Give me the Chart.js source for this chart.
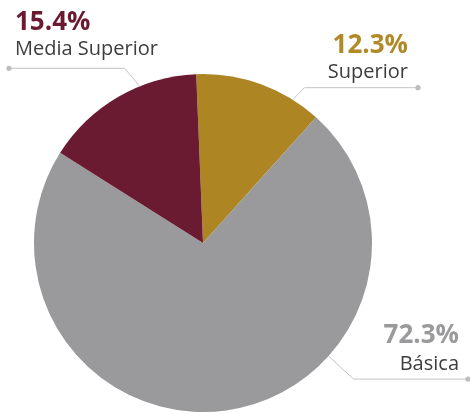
<!DOCTYPE html>
<html>
<head>
<meta charset="utf-8">
<script src="https://cdn.jsdelivr.net/npm/chart.js"></script>
<style>
  body { margin: 0; background: #fff; }
  #pie { display: block; }
</style>
</head>
<body>
<canvas id="pie" width="470" height="412"></canvas>
<script>
// data
const categories = ['Superior', 'Básica', 'Media Superior'];
const shares = [12.3, 72.3, 15.4];
const percentLabels = ['12.3%', '72.3%', '15.4%'];

const sliceColors = ['#ae8523', '#9a999b', '#6a1b31'];
const textColors = ['#b18a28', '#9a999b', '#6a1b31'];

// where each callout goes: angle on the pie edge (deg from top, clockwise),
// elbow offset from the edge point, end x of the horizontal rule, text anchor
const callouts = [
  { angle: 32, elbow: [12, -12], endX: 418, textX: 408, pctY: 53, nameY: 78, align: 'right' },
  { angle: 132, elbow: [25, 23], endX: 468, textX: 459, pctY: 343, nameY: 370, align: 'right' },
  { angle: -22, elbow: [-15, -18], endX: 9, textX: 15, pctY: 30, nameY: 55, align: 'left' }
];

const calloutPlugin = {
  id: 'callouts',
  afterDatasetsDraw(chart) {
    const ctx = chart.ctx;
    const arc = chart.getDatasetMeta(0).data[0];
    const cx = arc.x, cy = arc.y, r = arc.outerRadius;
    ctx.save();
    callouts.forEach(function(c, i) {
      const a = c.angle * Math.PI / 180;
      const ex = cx + r * Math.sin(a);
      const ey = cy - r * Math.cos(a);
      const bx = ex + c.elbow[0];
      const by = ey + c.elbow[1];
      ctx.strokeStyle = '#c4c4c8';
      ctx.lineWidth = 1;
      ctx.beginPath();
      ctx.moveTo(ex, ey);
      ctx.lineTo(bx, by);
      ctx.lineTo(c.endX, by);
      ctx.stroke();
      ctx.fillStyle = '#bcbcc2';
      ctx.beginPath();
      ctx.arc(c.endX, by, 2.6, 0, Math.PI * 2);
      ctx.fill();

      ctx.textAlign = c.align;
      ctx.textBaseline = 'alphabetic';
      ctx.fillStyle = textColors[i];
      ctx.font = 'bold 26px "Open Sans"';
      ctx.fillText(percentLabels[i], c.textX, c.pctY);
      ctx.fillStyle = '#3d3d3d';
      ctx.font = '20px "Open Sans"';
      ctx.fillText(categories[i], c.textX, c.nameY);
    });
    ctx.restore();
  }
};

var ctx = document.getElementById('pie').getContext('2d');
var chart = new Chart(ctx, {
  type: 'pie',
  data: {
    labels: categories,
    datasets: [{
      data: shares,
      backgroundColor: sliceColors,
      borderWidth: 0
    }]
  },
  options: {
    responsive: false,
    animation: false,
    rotation: -2.3,
    layout: {
      padding: { top: 74, left: 34, right: 98, bottom: 0 }
    },
    plugins: {
      legend: { display: false },
      tooltip: { enabled: false }
    }
  },
  plugins: [calloutPlugin]
});
</script>
</body>
</html>
